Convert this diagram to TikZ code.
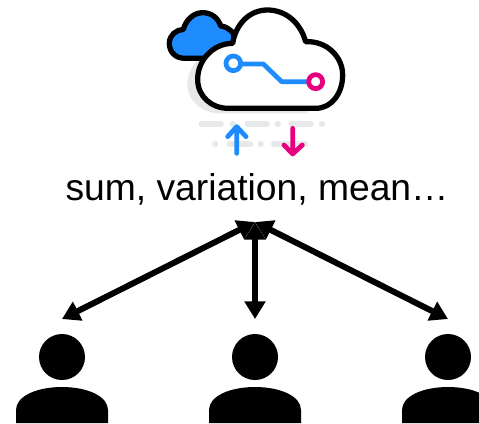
\documentclass[tikz,border=0pt]{standalone}
\usepackage{fontspec}
\setmainfont{Liberation Sans}
\usetikzlibrary{arrows.meta}
\definecolor{cloudblue}{HTML}{1E8CFF}
\definecolor{signalpink}{HTML}{E6007E}
\definecolor{shadowgray}{HTML}{E6E8EA}
\tikzset{
    link/.style={line width=3.4pt, {Triangle[length=10pt,width=11.5pt]}-{Triangle[length=10pt,width=11.5pt]}},
    cloudline/.style={line width=3pt, line join=round},
    trace/.style={line width=2.7pt, line join=round, line cap=round},
    dashrow/.style={shadowgray, line width=3.6pt, line cap=round}
}

\begin{document}
\begin{tikzpicture}[x=0.02cm, y=-0.02cm]
    \useasboundingbox (0,0) rectangle (479,423);

    % Cloud icon
    \begin{scope}[shift={(150,0)}, x=0.02cm/3, y=-0.02cm/3]
        \fill[shadowgray] (210,340) -- (472,340) -- (472,200) -- (223,145) .. controls (165,145) and (112,195) .. (112,253) .. controls (112,305) and (160,340) .. (210,340) -- cycle;
        \draw[cloudline, fill=cloudblue] (160,175) -- (105,175) .. controls (75,175) and (58,155) .. (58,130) .. controls (58,105) and (78,90) .. (100,88) .. controls (108,60) and (130,38) .. (158,38) .. controls (185,38) and (205,55) .. (212,78) .. controls (225,78) and (240,88) .. (250,100) -- (260,180) -- cycle;
        \draw[cloudline, fill=white] (235,325) -- (497,325) .. controls (545,325) and (578,280) .. (578,225) .. controls (578,170) and (530,122) .. (467,125) .. controls (450,65) and (405,30) .. (352,30) .. controls (300,30) and (258,70) .. (248,130) .. controls (190,130) and (143,180) .. (143,238) .. controls (143,290) and (185,325) .. (235,325) -- cycle;

        % Trace inside the cloud
        \draw[trace, cloudblue] (270,192) -- (340,192) -- (395,245) -- (475,245);
        \draw[trace, cloudblue, fill=white] (250,190) circle (22);
        \draw[trace, signalpink, fill=white] (497,245) circle (21);

        % Gray dashes
        \foreach \a/\b in {155/212,248/248,293/350,383/383,425/482,516/516}
            \draw[dashrow] (\a,371) -- (\b+0.1,371);
        \foreach \a/\b in {195/195,240/300,332/332,372/465}
            \draw[dashrow] (\a,432) -- (\b+0.1,432);

        % Up and down arrows
        \draw[trace, cloudblue] (260,460) -- (260,380) (233,410) -- (260,380) -- (288,410);
        \draw[trace, signalpink] (428,385) -- (428,462) (402,435) -- (428,462) -- (457,435);
    \end{scope}

    \node (label) at (257,189) {\fontsize{21.2pt}{24pt}\selectfont sum, variation, mean…};

    \coordinate (hub) at (255,222);

    % Users
    \foreach \name/\x in {userA/62,userB/255,userC/448} {
        \coordinate (\name) at (\x,319);
        \fill (\x,357) circle (23);
        \fill (\x-46,423) -- (\x-46,410) .. controls (\x-46,396) and (\x-25,387) .. (\x,387) .. controls (\x+25,387) and (\x+46,396) .. (\x+46,410) -- (\x+46,423) -- cycle;
        \draw[link] (hub) -- (\name);
    }
\end{tikzpicture}
\end{document}
